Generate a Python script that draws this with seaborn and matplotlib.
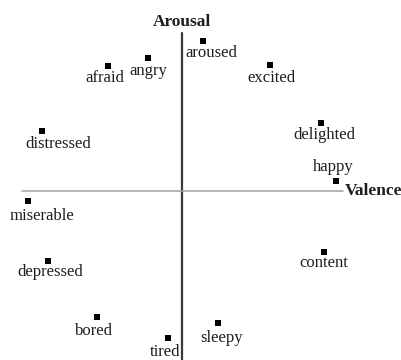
"""
Circumplex model of affect: emotion words placed on valence / arousal axes.
"""

import matplotlib
matplotlib.use("Agg")
import matplotlib.pyplot as plt
import seaborn as sns
import pandas as pd

# Emotion words and their (valence, arousal) positions
emotions = ["aroused", "angry", "afraid", "excited", "distressed", "delighted",
            "happy", "miserable", "depressed", "content", "bored", "tired", "sleepy"]
valence = [0.13, -0.21, -0.46, 0.55, -0.875, 0.87,
           0.96, -0.96, -0.84, 0.89, -0.53, -0.09, 0.225]
arousal = [0.94, 0.83, 0.78, 0.79, 0.375, 0.425,
           0.06, -0.06, -0.44, -0.38, -0.79, -0.92, -0.825]

# Label offsets in pixels (dx to the right, dy downwards)
label_offsets = {
    "aroused": (9, 12), "angry": (0, 13), "afraid": (-4, 12),
    "excited": (1, 13), "distressed": (16, 13), "delighted": (3, 12),
    "happy": (-2, -14), "miserable": (14, 15), "depressed": (3, 11),
    "content": (-1, 11), "bored": (-3, 14), "tired": (-2, 14), "sleepy": (4, 15),
}

df = pd.DataFrame({"emotion": emotions, "valence": valence, "arousal": arousal})

sns.set_style("white")
plt.rcParams["font.family"] = ["Liberation Serif", "DejaVu Serif"]

W, H, DPI = 402, 360, 100
fig = plt.figure(figsize=(W / DPI, H / DPI), dpi=DPI)
ax = fig.add_axes([0, 0, 1, 1])

# pixel origin of the axes crossing and pixel scale per unit
ox, oy, scale = 182, 191, 160.0
ax.set_xlim(-ox / scale, (W - ox) / scale)
ax.set_ylim(-(H - oy) / scale, oy / scale)

# Axes lines
ax.plot([0, 0], [(oy - 33) / scale, -(H - oy) / scale], color="#3a3a3a", lw=1.6, zorder=1)
ax.plot([(22 - ox) / scale, (343 - ox) / scale], [0, 0], color="#a0a0a0", lw=1.1, zorder=1)

sns.scatterplot(data=df, x="valence", y="arousal", marker="s", s=14,
                color="black", edgecolor="black", linewidth=0, ax=ax, zorder=3)

px2pt = 72.0 / DPI
for name, x, y in zip(emotions, valence, arousal):
    dx, dy = label_offsets[name]
    ax.annotate(name, (x, y), xytext=(dx * px2pt, -dy * px2pt),
                textcoords="offset points", ha="center", va="center",
                fontsize=12, color="#1e1e1e")

ax.text(0, (oy - 22) / scale, "Arousal", ha="center", va="center",
        fontsize=12.5, fontweight="bold", color="#1e1e1e")
ax.text((345 - ox) / scale, 0, "Valence", ha="left", va="center",
        fontsize=12.5, fontweight="bold", color="#1e1e1e")

ax.set_xlabel("")
ax.set_ylabel("")
ax.set_xticks([])
ax.set_yticks([])
for spine in ax.spines.values():
    spine.set_visible(False)

fig.savefig("out.png", dpi=DPI)
plt.close(fig)
